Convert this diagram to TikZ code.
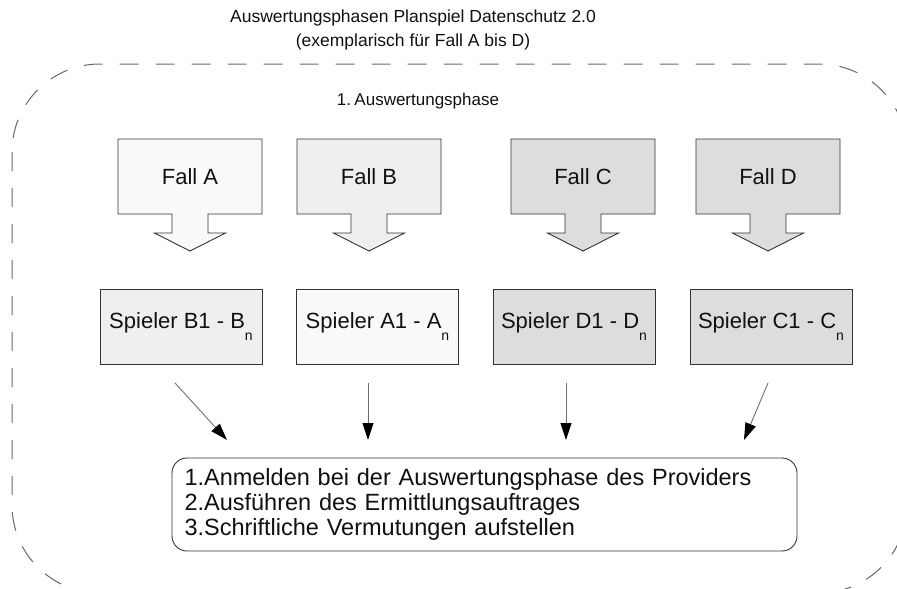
\documentclass[tikz,border=0pt]{standalone}
\usepackage{fontspec}
\setmainfont{Liberation Sans}
\usetikzlibrary{arrows.meta}

\definecolor{fillA}{HTML}{F9F9F9}
\definecolor{fillB}{HTML}{EFEFEF}
\definecolor{fillCD}{HTML}{DDDDDD}
\definecolor{edge}{HTML}{333333}
\definecolor{ink}{HTML}{111111}
\definecolor{frame}{HTML}{6A6A6A}
\definecolor{link}{HTML}{707070}

% one case: a box with a block arrow hanging below it
\newcommand\fallcase[4]{% #1 name, #2 centre x, #3 fill, #4 label
  \begin{scope}[shift={(#2,0)}]
    \draw[boxline, fill=#3] (-72,139) -- (72,139) -- (72,214) -- (18,214)
      -- (18,233) -- (35.5,233) -- (0,251) -- (-35.5,233) -- (-18,233)
      -- (-18,214) -- (-72,214) -- cycle;
    \node[falltext] (#1) at (0,176.5) {#4};
  \end{scope}}
\newcommand\sub[1]{\raisebox{-0.55em}{\fontsize{14}{14}\selectfont #1}}

\begin{document}
\begin{tikzpicture}[x=1pt, y=-1pt,
  boxline/.style={draw=edge, line width=0.9pt},
  falltext/.style={text=ink, font=\fontsize{22}{25}\selectfont, inner sep=0pt},
  playerbox/.style={boxline, minimum width=162pt, minimum height=75pt,
    inner sep=0pt, text=ink, font=\fontsize{22}{25}\selectfont},
  flow/.style={draw=link, line width=0.9pt, -{Triangle[length=17pt, width=11pt, color=black]}},
  heading/.style={text=ink, font=\fontsize{17.5}{24}\selectfont, align=center, inner sep=0pt}]

\useasboundingbox (0,0) rectangle (897,589);
\fill[white] (0,0) rectangle (897,589);

% dashed frame of the first evaluation phase
\begin{scope}
  \clip (0,0) rectangle (897,589);
  \draw[frame, line width=1pt, dash pattern=on 19pt off 17pt, rounded corners=88pt]
    (12,64) rectangle (907,593);
\end{scope}

% headings
\node[heading] (title) at (413,30) {Auswertungsphasen Planspiel Datenschutz 2.0\\(exemplarisch für Fall A bis D)};
\node[heading, font=\fontsize{17}{20}\selectfont] (phase) at (418,101) {1.\hspace{0.2em}Auswertungsphase};

% cases
\fallcase{fA}{190}{fillA}{Fall A}
\fallcase{fB}{369}{fillB}{Fall B}
\fallcase{fC}{583}{fillCD}{Fall C}
\fallcase{fD}{768}{fillCD}{Fall D}

% player groups
\node[playerbox, fill=fillB]  (pB) at (181,326.5) {Spieler B1 - B\sub{n}};
\node[playerbox, fill=fillA]  (pA) at (377.5,326.5) {Spieler A1 - A\sub{n}};
\node[playerbox, fill=fillCD] (pD) at (574,326.5) {Spieler D1 - D\sub{n}};
\node[playerbox, fill=fillCD] (pC) at (771,326.5) {Spieler C1 - C\sub{n}};

% task list
\node[boxline, rounded corners=15pt, minimum width=625pt, minimum height=93pt,
      text width=600pt, align=left, inner sep=0pt, text=ink,
      font=\fontsize{23.5}{25}\selectfont] (task) at (484.5,504.5)
  {1.Anmelden bei der Auswertungsphase des Providers\\
   2.Ausführen des Ermittlungsauftrages\\
   3.Schriftliche Vermutungen aufstellen};

% connectors from the player groups to the task list
\coordinate (s1) at (175,383);  \coordinate (e1) at (227,440);
\coordinate (s2) at (368,383);  \coordinate (e2) at (368,440);
\coordinate (s3) at (566,383);  \coordinate (e3) at (566,440);
\coordinate (s4) at (768,383);  \coordinate (e4) at (744,440);
\draw[flow] (s1) -- (e1);
\draw[flow] (s2) -- (e2);
\draw[flow] (s3) -- (e3);
\draw[flow] (s4) -- (e4);
\end{tikzpicture}
\end{document}
